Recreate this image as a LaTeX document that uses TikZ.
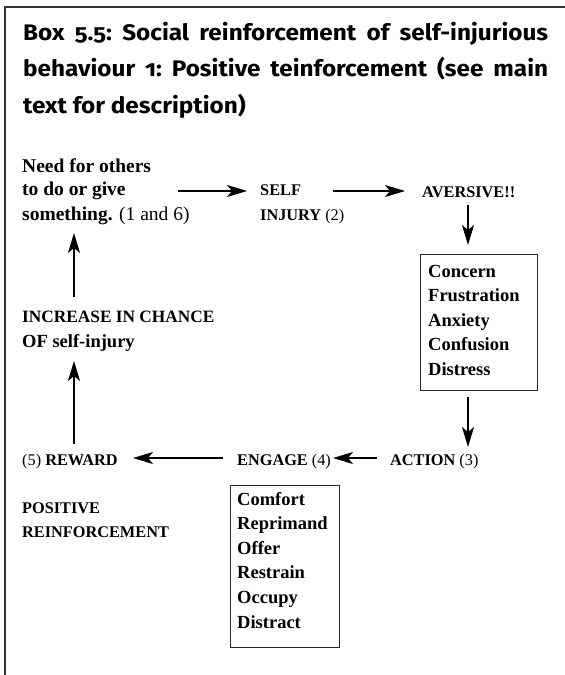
\documentclass[tikz,border=0pt]{standalone}
\usepackage{fontspec}
\setmainfont{Liberation Serif}
\newfontfamily\titlefont[Numbers=OldStyle,FakeStretch=1.08]{Fira Sans}
\usetikzlibrary{arrows.meta,calc}

\newcommand\lite[1]{{\mdseries #1}}

\tikzset{
  lab/.style={inner sep=0pt, anchor=base west, font=\fontsize{16.3}{20}\selectfont\bfseries},
  labl/.style={inner sep=0pt, anchor=base west, font=\fontsize{18.5}{24.5}\selectfont\bfseries},
  listtext/.style={inner sep=0pt, anchor=base west, align=left, text width=105pt,
    font=\fontsize{18.5}{24.6}\selectfont\bfseries},
  listbox/.style={draw=black!85, line width=0.9pt, inner sep=0pt, anchor=north west},
  arr/.style={line width=1.4pt, -{Stealth[length=20pt,width=12pt,inset=5pt]}},
}

\begin{document}
\begin{tikzpicture}[x=1pt,y=-1pt]
\useasboundingbox (0,0) rectangle (565,675);

% outer frame: top rule and left rule only
\draw[line width=1.5pt, black!80] (5,675) -- (5,7) -- (565,7);

% heading
\node[inner sep=0pt, anchor=base west, font=\titlefont\fontsize{22.5}{36.5}\selectfont\bfseries] (title) at (23,40)
  {\parbox[t]{525pt}{\frenchspacing Box 5.5: Social reinforcement of self-injurious\linebreak
   behaviour 1: Positive teinforcement (see main\linebreak
   text for description)}};

% cycle labels
\node[labl, font=\fontsize{19.5}{24.5}\selectfont\bfseries] (need1) at (22,172) {Need for others};
\node[labl, font=\fontsize{19.5}{24.5}\selectfont\bfseries] (need2) at (22,195) {to do or give};
\node[labl, font=\fontsize{19.5}{24.5}\selectfont\bfseries] (need3) at (22,220) {something. \lite{(1 and 6)}};

\node[lab] (self1) at (260,195) {SELF};
\node[lab] (self2) at (260,220) {INJURY \lite{(2)}};

\node[lab] (aver) at (422,197) {AVERSIVE!!};

\node[listbox, minimum width=117pt, minimum height=136pt] (box1) at (420,254) {};
\node[listtext] (feel) at (428,277) {Concern\\Frustration\\Anxiety\\Confusion\\Distress};

\node[lab] (action) at (390,465) {ACTION \lite{(3)}};
\node[lab] (engage) at (237,465) {ENGAGE \lite{(4)}};
\node[lab] (reward) at (22,465) {\lite{(5)} REWARD};

\node[lab] (pos1) at (22,513) {POSITIVE};
\node[lab] (pos2) at (22,537) {REINFORCEMENT};

\node[listbox, minimum width=109pt, minimum height=162pt] (box2) at (230,485) {};
\node[listtext] (ways) at (237,505) {Comfort\\Reprimand\\Offer\\Restrain\\Occupy\\Distract};

\node[lab, font=\fontsize{17.3}{20}\selectfont\bfseries] (incr1) at (22,322) {INCREASE IN CHANCE};
\node[labl] (incr2) at (22,347) {OF self-injury};

% connectors
\draw[arr] ($(need2.base west)+(156,-4)$) -- ($(self1.base west)+(-13,-4)$);
\draw[arr] ($(self1.base west)+(73,-4)$) -- ($(aver.base west)+(-17,-6)$);
\draw[arr] ($(aver.base west)+(46,8)$) -- ($(box1.north west)+(48,-9)$);
\draw[arr] ($(box1.south west)+(48,6)$) -- ($(action.base west)+(78,-18)$);
\draw[arr] ($(action.base west)+(-13,-7)$) -- ($(engage.base west)+(96,-7)$);
\draw[arr] ($(engage.base west)+(-14,-7)$) -- ($(reward.base west)+(111,-7)$);
\draw[arr] ($(reward.base west)+(52,-21)$) -- ($(incr2.base west)+(52,14)$);
\draw[arr] ($(incr1.base west)+(52,-25)$) -- ($(need3.base west)+(52,13)$);
\end{tikzpicture}
\end{document}
